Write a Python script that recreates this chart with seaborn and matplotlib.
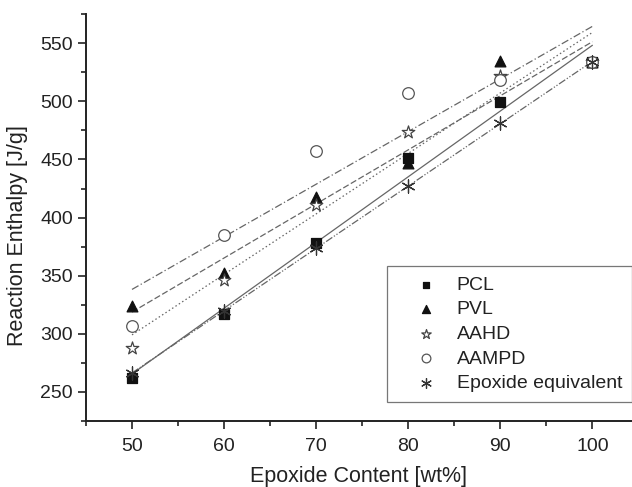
import matplotlib
matplotlib.use("Agg")
import matplotlib.pyplot as plt
import numpy as np
import pandas as pd
import seaborn as sns
from matplotlib.ticker import MultipleLocator

epoxide = [50, 60, 70, 80, 90, 100]
pcl = [262, 317, 378, 451, 499, 534]
pvl = [324, 352, 418, 447, 535, 534]
aahd = [288, 346, 411, 474, 522, 534]
aampd = [307, 385, 457, 507, 518, 534]
epox_eq = [266, 320, 374, 427, 481, 534]

names = ["PCL", "PVL", "AAHD", "AAMPD", "Epoxide equivalent"]
series = [pcl, pvl, aahd, aampd, epox_eq]

df = pd.DataFrame({
    "content": epoxide * len(names),
    "enthalpy": sum(series, []),
    "sample": np.repeat(names, len(epoxide)),
})

sns.set_style("ticks")
plt.rcParams["font.family"] = ["Liberation Sans", "DejaVu Sans"]

fig = plt.figure(figsize=(6.32, 4.87), dpi=100)
ax = fig.add_axes([0.136, 0.1355, 0.864, 0.8355])

styles = {
    "PCL": dict(marker="s", fc="#111111", ec="#111111", ls="-", ms=45),
    "PVL": dict(marker="^", fc="#111111", ec="#111111", ls=(0, (5, 2)), ms=60),
    "AAHD": dict(marker="*", fc="white", ec="#444444", ls=(0, (1.2, 2)), ms=90),
    "AAMPD": dict(marker="o", fc="white", ec="#555555", ls=(0, (6, 2, 1, 2)), ms=70),
    "Epoxide equivalent": dict(marker=(6, 2, 0), fc="#333333", ec="#333333",
                               ls=(0, (6, 1.5, 1, 1.5, 1, 1.5)), ms=90),
}

for name in names:
    st = styles[name]
    sub = df[df["sample"] == name]
    sns.regplot(data=sub, x="content", y="enthalpy", ax=ax, ci=None, scatter=False,
                truncate=True,
                line_kws=dict(color="#666666", lw=0.9, ls=st["ls"]))
    ax.scatter(sub["content"], sub["enthalpy"], marker=st["marker"], s=st["ms"],
               facecolors=st["fc"], edgecolors=st["ec"], linewidths=0.9,
               label=name, zorder=3)

ax.set_xlim(45, 104.3)
ax.set_ylim(225, 575)
ax.xaxis.set_major_locator(MultipleLocator(10))
ax.xaxis.set_minor_locator(MultipleLocator(5))
ax.yaxis.set_major_locator(MultipleLocator(50))
ax.yaxis.set_minor_locator(MultipleLocator(25))
ax.set_xticks([50, 60, 70, 80, 90, 100])
ax.tick_params(which="major", length=6, width=1.2, labelsize=14, colors="#222222")
ax.tick_params(which="minor", length=3.5, width=1.2, colors="#222222")
ax.tick_params(axis="x", pad=6)
for sp in ["left", "bottom"]:
    ax.spines[sp].set_linewidth(1.4)
    ax.spines[sp].set_color("#222222")
sns.despine(ax=ax)

ax.set_xlabel("Epoxide Content [wt%]", fontsize=15.5, color="#222222", labelpad=8)
ax.set_ylabel("Reaction Enthalpy [J/g]", fontsize=15.5, color="#222222")
ax.yaxis.set_label_coords(-0.106, 0.455)

leg = ax.legend(loc="lower right", bbox_to_anchor=(1.0, 0.047), borderaxespad=0,
                fontsize=14, frameon=True, fancybox=False, edgecolor="#555555",
                handlelength=3.0, handletextpad=0.1, labelspacing=0.36,
                markerscale=0.75, borderpad=0.5)
leg.get_frame().set_linewidth(0.9)
for t in leg.get_texts():
    t.set_color("#222222")

fig.savefig("out.png", dpi=100)
